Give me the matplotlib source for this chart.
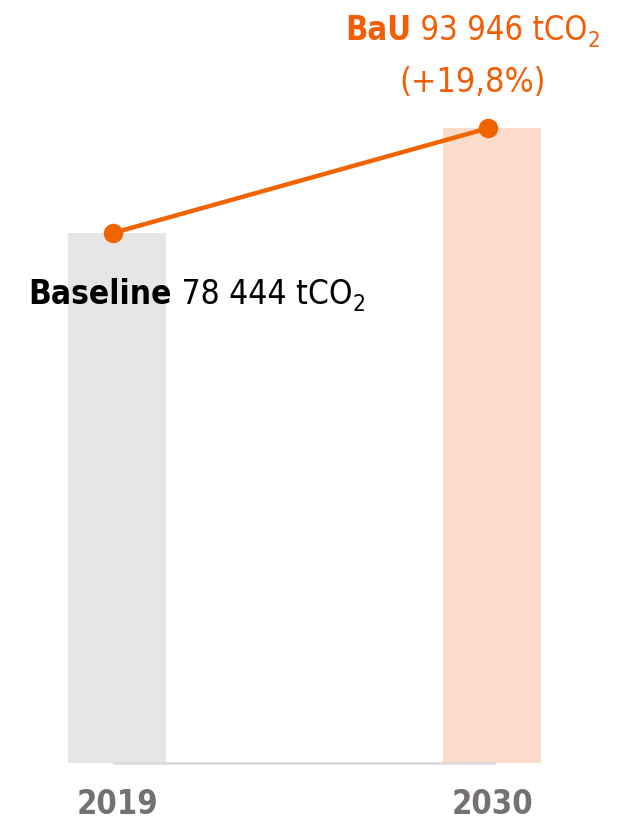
import matplotlib.pyplot as plt

# Emissions, tCO2
years = ['2019', '2030']
emissions = [78444, 93946]
label_names = ['Baseline', 'BaU']
change_text = '(+19,8%)'

W, H, DPI = 618, 822, 100
FONT = ['Liberation Sans Narrow', 'DejaVu Sans']

bar_colors = ['#e6e6e6', '#fddbcb']
line_color = '#f06400'
text_orange = '#f25d05'
year_color = '#767171'

fig = plt.figure(figsize=(W / DPI, H / DPI), dpi=DPI)
ax = fig.add_axes([0, 0, 1, 1])
ax.axis('off')

# pixel scale: category 0 -> 117 px, 1 -> 492 px; zero line at 763 px from top
px_per_x = 375.0
x0_px = 117.0
y_scale = 530.0 / emissions[0]
zero_px = H - 763
ax.set_xlim(-x0_px / px_per_x, (W - x0_px) / px_per_x)
ax.set_ylim(-zero_px / y_scale, (H - zero_px) / y_scale)

xs = list(range(len(years)))
ax.bar(xs, emissions, width=98 / px_per_x, color=bar_colors, zorder=1)

# baseline and the line between the two totals, slightly left of bar centres
shift = -4 / px_per_x
lx = [x + shift for x in xs]
ax.plot([lx[0], xs[-1] + 3 / px_per_x], [0, 0], color='#dadada', lw=1.8,
        zorder=2, solid_capstyle='butt')
ax.plot(lx, emissions, color=line_color, lw=3.2, marker='o', ms=13,
        zorder=3, solid_capstyle='round')

# year labels sit right on the bottom edge
for x, yr in zip(xs, years):
    ax.text(x, -zero_px / y_scale + 1.5 / y_scale, yr, ha='center', va='bottom',
            fontsize=23.5, fontweight='bold', color=year_color, family=FONT,
            fontstretch='condensed')

fig.canvas.draw()
renderer = fig.canvas.get_renderer()


def rich_line(parts, x_px, y_px, color, align='left', size=23.5):
    """Draw text pieces on one baseline; parts = (text, weight, is_subscript)."""
    artists = []
    for txt, weight, sub in parts:
        fs = size * 0.68 if sub else size
        t = fig.text(0, 0, txt, fontsize=fs, fontweight=weight, color=color,
                     family=FONT, fontstretch='condensed', va='baseline')
        artists.append((t, sub))
    widths = [t.get_window_extent(renderer).width for t, _ in artists]
    total = sum(widths)
    start = x_px - total if align == 'right' else (x_px - total / 2 if align == 'center' else x_px)
    cur = start
    for (t, sub), w in zip(artists, widths):
        yy = y_px - (size * 0.28 if sub else 0)
        t.set_position((cur / W, yy / H))
        cur += w


rich_line([(label_names[1], 'bold', False),
           (f' {emissions[1]:,}'.replace(',', ' ') + ' tCO', 'normal', False),
           ('2', 'normal', True)],
          600, H - 40, text_orange, align='right')
rich_line([(change_text, 'normal', False)], 473, H - 92, text_orange, align='center',
          size=24.5)
rich_line([(label_names[0], 'bold', False),
           (f' {emissions[0]:,}'.replace(',', ' ') + ' tCO', 'normal', False),
           ('2', 'normal', True)],
          28, H - 304, 'black', align='left', size=24)

fig.savefig('out.png', dpi=DPI)
